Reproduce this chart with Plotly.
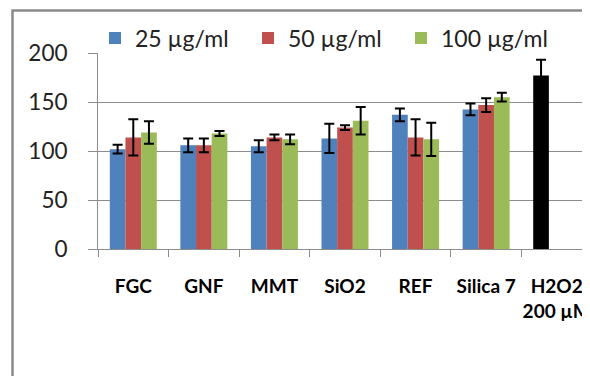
import plotly.graph_objects as go

categories = ["FGC", "GNF", "MMT", "SiO2", "REF", "Silica 7", "H2O2<br>200 µM"]
series_names = ["25 µg/ml", "50 µg/ml", "100 µg/ml"]
v25 = [102, 106, 105, 113, 137, 142.5, 177]
e25 = [4.5, 7, 6, 15, 6.5, 6, 16]
v50 = [114, 106, 114, 124, 114, 147, None]
e50 = [18.5, 7, 3, 2.5, 18.5, 7, None]
v100 = [119, 118, 112, 131, 112, 155, None]
e100 = [11.5, 2.5, 5, 14, 17, 4.5, None]
y_ticks = [0, 50, 100, 150, 200]

colors = ["#4F81BD", "#C0504D", "#9BBB59"]
colors25 = [colors[0]] * 6 + ["#000000"]

FONT = "Lato, Open Sans, sans-serif"
W, H = 590, 376
OFF = 8  # page body margin offset
fig = go.Figure()
for name, vals, errs, col in [
    (series_names[0], v25, e25, colors25),
    (series_names[1], v50, e50, colors[1]),
    (series_names[2], v100, e100, colors[2]),
]:
    fig.add_trace(go.Bar(
        x=categories, y=vals, name=name,
        marker=dict(color=col, line=dict(width=0)),
        error_y=dict(type="data", array=errs, visible=True, color="black",
                     thickness=2, width=5),
    ))

fig.update_layout(
    width=W, height=H,
    margin=dict(l=0, r=0, t=0, b=0),
    paper_bgcolor="white", plot_bgcolor="white",
    barmode="group", bargap=0.334, bargroupgap=0,
    showlegend=True,
    legend=dict(orientation="h", x=(95 - OFF) / W, y=(H - (38 - OFF)) / H,
                xanchor="left", yanchor="middle",
                font=dict(family=FONT, size=23, color="#222"),
                entrywidth=108, entrywidthmode="pixels",
                itemwidth=30, traceorder="normal", bgcolor="rgba(0,0,0,0)"),
    font=dict(family=FONT, color="black"),
)
fig.update_yaxes(range=[0, 200], tickvals=y_ticks,
                 domain=[(H - (249.3 - OFF)) / H, (H - (53 - OFF)) / H],
                 automargin=False, showgrid=True, gridcolor="#8c8c8c",
                 gridwidth=1, showline=True, linecolor="#8c8c8c", linewidth=1,
                 ticks="outside", ticklen=9, tickcolor="#8c8c8c",
                 tickfont=dict(family=FONT, size=22.5, color="#222"),
                 ticklabelstandoff=16, zeroline=False)
fig.update_xaxes(range=[-0.5, 6.5], domain=[(98 - OFF) / W, (592 - OFF) / W], automargin=False,
                 showline=True, linecolor="#8c8c8c", linewidth=1, tickangle=0,
                 ticks="outside", tickson="boundaries", ticklen=7, tickcolor="#8c8c8c",
                 tickfont=dict(family=FONT, size=19, color="black", weight="bold"),
                 ticklabelstandoff=20, showgrid=False)

fig.add_shape(type="rect", xref="paper", yref="paper",
              x0=(12.5 - OFF) / W, x1=1.1, y0=-0.1, y1=(H - (10.5 - OFF)) / H,
              line=dict(color="#8a8a8a", width=2.5), fillcolor="rgba(0,0,0,0)",
              layer="below")

fig.write_html("out.html")
